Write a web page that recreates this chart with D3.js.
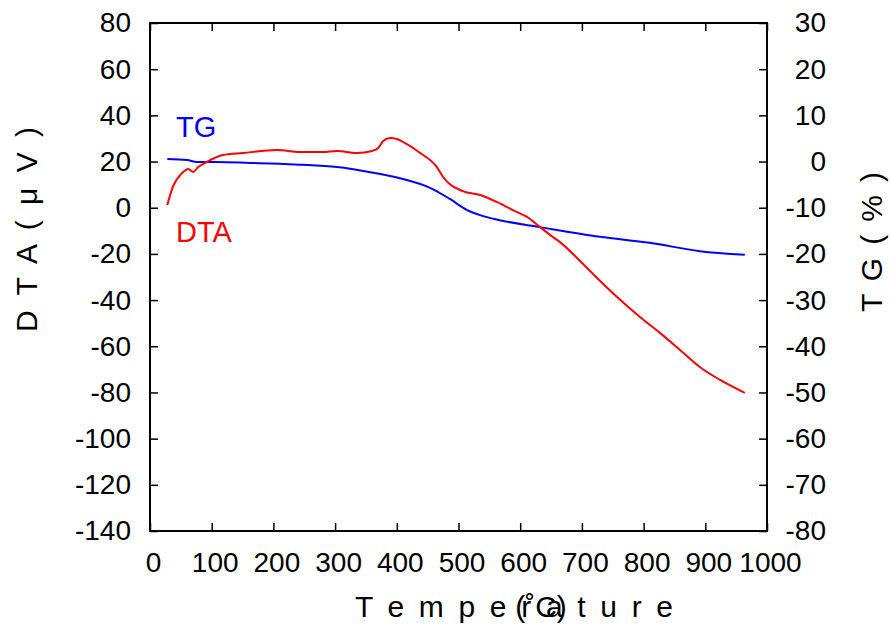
<!DOCTYPE html>
<meta charset="utf-8">
<style>
  body { margin: 0; background: #fff; }
  text { font-family: "Liberation Sans", Arial, sans-serif; }
</style>
<script src="https://d3js.org/d3.v7.min.js"></script>
<div id="my_dataviz"></div>
<script>

// values
var dtaTemp = [28, 37, 52, 62, 70, 78, 92, 118, 151, 206, 243, 280, 303, 335, 360, 370, 378, 389, 400, 410,
  438, 465, 475, 507, 535, 562, 588, 611, 632, 653, 664, 697, 718, 757, 794, 827, 859, 891, 924, 964];
var dtaValues = [1.2, 9.0, 15.0, 16.8, 15.5, 17.6, 19.8, 22.8, 23.7, 25.0, 24.1, 24.1, 24.6, 23.7, 24.6, 25.9, 28.9, 30.2, 29.8, 28.5,
  23.7, 17.6, 13.3, 7.2, 5.5, 2.5, -1.0, -4.0, -8.3, -12.7, -14.8, -23.1, -28.7, -38.7, -47.3, -54.3, -61.6, -69.0, -74.6, -80.2];

var tgTemp = [28, 60, 76, 108, 162, 211, 248, 303, 357, 405, 454, 486, 514, 535, 567, 632, 729, 810, 891, 964];
var tgValues = [0.55, 0.35, -0.1, -0.1, -0.3, -0.5, -0.7, -1.2, -2.3, -3.6, -5.7, -8.1, -10.5, -11.6, -12.7, -14.2, -16.3, -17.6, -19.4, -20.2];

var xTicks = [0, 100, 200, 300, 400, 500, 600, 700, 800, 900, 1000];
var dtaTicks = [80, 60, 40, 20, 0, -20, -40, -60, -80, -100, -120, -140];
var tgTicks = [30, 20, 10, 0, -10, -20, -30, -40, -50, -60, -70, -80];

var W = 892, H = 628;
var margin = {top: 23, right: 125, bottom: 97, left: 150},
  width = W - margin.left - margin.right,
  height = H - margin.top - margin.bottom;

var svg = d3.select("#my_dataviz")
.append("svg")
  .attr("width", W)
  .attr("height", H)
.append("g")
  .attr("transform", "translate(" + margin.left + "," + margin.top + ")");

var x = d3.scaleLinear().domain([0, 1000]).range([0, width]);
var yL = d3.scaleLinear().domain([-140, 80]).range([height, 0]);
var yR = d3.scaleLinear().domain([-80, 30]).range([height, 0]);

var fs = 28;
var plain = function(d) { return String(d); };  // hyphen minus, no thousands comma

// axes, ticks pointing inwards
var gx = svg.append("g").attr("transform", "translate(0," + height + ")")
  .call(d3.axisBottom(x).tickValues(xTicks).tickFormat(plain).tickSize(-8).tickSizeOuter(0).tickPadding(21));
var gxTop = svg.append("g")
  .call(d3.axisTop(x).tickValues(xTicks).tickSize(-8).tickSizeOuter(0).tickFormat(""));
var gl = svg.append("g")
  .call(d3.axisLeft(yL).tickValues(dtaTicks).tickFormat(plain).tickSize(-8).tickSizeOuter(0).tickPadding(19));
var gr = svg.append("g").attr("transform", "translate(" + width + ",0)")
  .call(d3.axisRight(yR).tickValues(tgTicks).tickFormat(plain).tickSize(-8).tickSizeOuter(0).tickPadding(59));

[gx, gxTop, gl, gr].forEach(function(g) {
  g.select(".domain").remove();
  g.selectAll(".tick line").attr("stroke", "#000").attr("stroke-width", 1.5);
  g.selectAll("text").attr("font-size", fs).attr("fill", "#000")
    .style("font-family", "'Liberation Sans', Arial, sans-serif");
});
gx.selectAll("text").attr("dx", 3);
gr.selectAll("text").attr("text-anchor", "end");

svg.append("rect")
  .attr("width", width).attr("height", height)
  .attr("fill", "none").attr("stroke", "#000").attr("stroke-width", 2);

// curves
var dtaLine = d3.line()
  .x(function(d, i) { return x(dtaTemp[i]); })
  .y(function(d) { return yL(d); })
  .curve(d3.curveMonotoneX);
var tgLine = d3.line()
  .x(function(d, i) { return x(tgTemp[i]); })
  .y(function(d) { return yR(d); })
  .curve(d3.curveMonotoneX);

svg.append("path").datum(tgValues)
  .attr("d", tgLine).attr("fill", "none").attr("stroke", "#0000ff").attr("stroke-width", 2);
svg.append("path").datum(dtaValues)
  .attr("d", dtaLine).attr("fill", "none").attr("stroke", "#ff0000").attr("stroke-width", 2);

// series labels
svg.append("text").text("TG").attr("x", 176 - margin.left).attr("y", 137 - margin.top)
  .attr("font-size", 29).attr("fill", "#0000ff");
svg.append("text").text("DTA").attr("x", 176 - margin.left).attr("y", 242 - margin.top)
  .attr("font-size", 29).attr("fill", "#ff0000");

// axis titles (the unit sits on top of the word, as in the original)
svg.append("text").text("T e m p e r a t u r e")
  .attr("x", 355 - margin.left).attr("y", 617 - margin.top)
  .attr("font-size", 30).attr("textLength", 318).attr("lengthAdjust", "spacing");
svg.append("text").text("(˚C)")
  .attr("x", 541 - margin.left).attr("y", 617 - margin.top)
  .attr("font-size", 30).attr("text-anchor", "middle");

svg.append("text").text("D T A ( μ V )")
  .attr("transform", "translate(" + (37 - margin.left) + "," + (332 - margin.top) + ") rotate(-90)")
  .attr("font-size", 30).attr("textLength", 205).attr("lengthAdjust", "spacing");
svg.append("text").text("T G ( % )")
  .attr("transform", "translate(" + (882 - margin.left) + "," + (312 - margin.top) + ") rotate(-90)")
  .attr("font-size", 30).attr("textLength", 140).attr("lengthAdjust", "spacing");

</script>
